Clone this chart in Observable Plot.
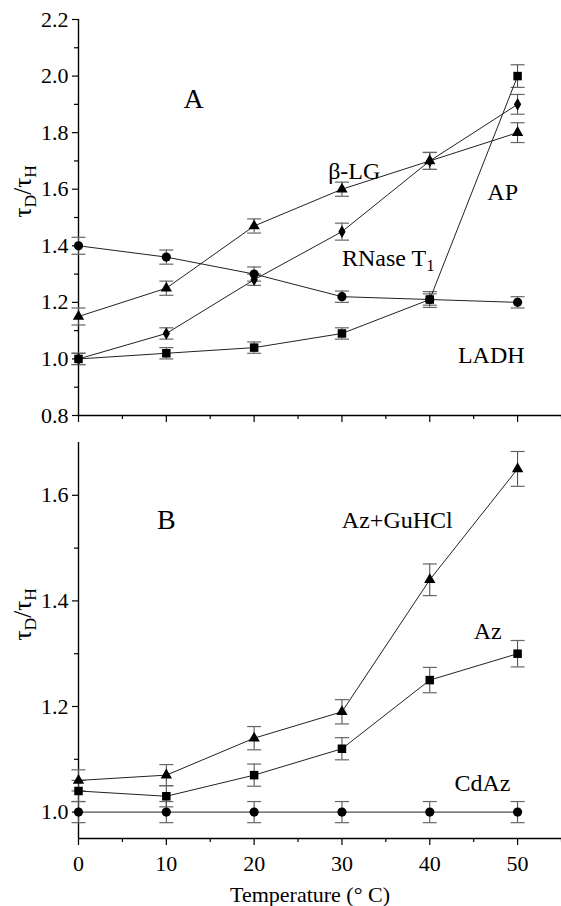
<!DOCTYPE html>
<html><head><meta charset="utf-8">
<script src="https://cdn.jsdelivr.net/npm/d3@7"></script>
<script src="https://cdn.jsdelivr.net/npm/@observablehq/plot@0.6"></script>
<style>
body{margin:0;background:#fff;}
#chart svg{display:block;}
</style>
</head><body><div id="chart"></div>
<script>
// ---- data ----
const temps = [0, 10, 20, 30, 40, 50];

// Panel A
const aBLG = [1.15, 1.25, 1.47, 1.60, 1.70, 1.80];
const aBLGErr = [0.03, 0.025, 0.025, 0.025, 0.03, 0.035];
const aAP = [1.00, 1.02, 1.04, 1.09, 1.21, 2.00];
const aAPErr = [0.02, 0.02, 0.02, 0.02, 0.028, 0.04];
const aRNase = [1.00, 1.09, 1.28, 1.45, 1.70, 1.90];
const aRNaseErr = [0.02, 0.02, 0.02, 0.03, 0.03, 0.035];
const aLADH = [1.40, 1.36, 1.30, 1.22, 1.21, 1.20];
const aLADHErr = [0.03, 0.025, 0.025, 0.02, 0.02, 0.02];

// Panel B
const bAzGu = [1.06, 1.07, 1.14, 1.19, 1.44, 1.65];
const bAzGuErr = [0.02, 0.02, 0.022, 0.023, 0.03, 0.033];
const bAz = [1.04, 1.03, 1.07, 1.12, 1.25, 1.30];
const bAzErr = [0.02, 0.02, 0.021, 0.021, 0.024, 0.025];
const bCdAz = [1.00, 1.00, 1.00, 1.00, 1.00, 1.00];
const bCdAzErr = [0.02, 0.02, 0.02, 0.02, 0.02, 0.02];

// axes
const xMajor = [0, 10, 20, 30, 40, 50];
const xMinor = [5, 15, 25, 35, 45, 55];
const aYMajor = [0.8, 1.0, 1.2, 1.4, 1.6, 1.8, 2.0, 2.2];
const aYMinor = [0.9, 1.1, 1.3, 1.5, 1.7, 1.9, 2.1];
const bYMajor = [1.0, 1.2, 1.4, 1.6];
const bYMinor = [1.1, 1.3, 1.5];

// annotations (data coordinates)
const aLabels = [
  {text: "A", x: 13.1, y: 1.92, size: 28, anchor: "middle"},
  {text: "β-LG", x: 31.4, y: 1.665, size: 24, anchor: "middle"},
  {text: "AP", x: 48.3, y: 1.59, size: 24, anchor: "middle"},
  {text: "RNase T1", x: 30.0, y: 1.355, size: 24, anchor: "start"},
  {text: "LADH", x: 47.0, y: 1.012, size: 24, anchor: "middle"}
];
const bLabels = [
  {text: "B", x: 10.0, y: 1.553, size: 28, anchor: "middle"},
  {text: "Az+GuHCl", x: 36.3, y: 1.553, size: 24, anchor: "middle"},
  {text: "Az", x: 46.6, y: 1.343, size: 24, anchor: "middle"},
  {text: "CdAz", x: 46.0, y: 1.055, size: 24, anchor: "middle"}
];

// ---- build ----
function rows(name, vals, errs, symbol, r) {
  return temps.map((t, i) => ({series: name, t, v: vals[i], lo: vals[i] - errs[i], hi: vals[i] + errs[i], symbol, r}));
}
const capSymbol = {
  draw(context) { context.moveTo(-7, 0); context.lineTo(7, 0); }
};

function panel({series, yDomain, yMajor, yMinor, height, marginTop, marginBottom, labels, xLabels, yLabel}) {
  const all = series.flat();
  const marks = [
    Plot.ruleX([0], {stroke: "#000", strokeWidth: 1.4}),
    Plot.ruleY([yDomain[0]], {stroke: "#000", strokeWidth: 1.4}),
    Plot.axisY({ticks: yMajor, tickSize: 6, tickPadding: 4, tickFormat: d3.format(".1f"), fontSize: 22, label: null, strokeWidth: 1.2}),
    Plot.axisY({ticks: yMinor, tickSize: 4, tickFormat: () => "", label: null, strokeWidth: 1.2}),
    Plot.axisX({ticks: xMajor, tickSize: 7, tickPadding: 10, fontSize: 22, label: null, strokeWidth: 1.2,
      tickFormat: xLabels ? d3.format("d") : () => ""}),
    Plot.axisX({ticks: xMinor, tickSize: 4, tickFormat: () => "", label: null, strokeWidth: 1.2}),
    Plot.ruleX(all, {x: "t", y1: "lo", y2: "hi", stroke: "#444", strokeWidth: 1}),
    Plot.dot(all, {x: "t", y: "lo", symbol: capSymbol, stroke: "#666", fill: "none", strokeWidth: 1.2}),
    Plot.dot(all, {x: "t", y: "hi", symbol: capSymbol, stroke: "#666", fill: "none", strokeWidth: 1.2}),
    Plot.line(all, {x: "t", y: "v", z: "series", stroke: "#222", strokeWidth: 1})
  ];
  for (const s of series) {
    marks.push(Plot.dot(s, {x: "t", y: "v", symbol: s[0].symbol, r: s[0].r, fill: "#000", stroke: "none"}));
  }
  for (const l of labels) {
    marks.push(Plot.text([l], {x: "x", y: "y", text: "text", fontSize: l.size, textAnchor: l.anchor, lineAnchor: "middle"}));
  }
  marks.push(Plot.text([yLabel], {frameAnchor: "left", dx: -56, rotate: -90, fontSize: 25, lineAnchor: "middle"}));
  if (xLabels) {
    marks.push(Plot.text(["Temperature (° C)"], {frameAnchor: "bottom", dx: -10, dy: 56, fontSize: 22, lineAnchor: "middle"}));
  }
  return Plot.plot({
    width: 561, height, marginLeft: 78, marginRight: 0, marginTop, marginBottom,
    x: {domain: [0, 55], axis: null},
    y: {domain: yDomain, axis: null},
    style: {fontFamily: "'Liberation Serif', 'Times New Roman', serif", fontSize: "22px", background: "#fff", color: "#000", overflow: "visible"},
    marks
  });
}

const plotA = panel({
  series: [
    rows("β-LG", aBLG, aBLGErr, "triangle", 4.2),
    rows("AP", aAP, aAPErr, "square", 4.8),
    rows("RNase T1", aRNase, aRNaseErr, "diamond", 3.8),
    rows("LADH", aLADH, aLADHErr, "circle", 4.6)
  ],
  yDomain: [0.8, 2.2], yMajor: aYMajor, yMinor: aYMinor,
  height: 430, marginTop: 19, marginBottom: 15,
  labels: aLabels, xLabels: false, yLabel: "τD/τH"
});
const plotB = panel({
  series: [
    rows("Az+GuHCl", bAzGu, bAzGuErr, "triangle", 4.2),
    rows("Az", bAz, bAzErr, "square", 4.8),
    rows("CdAz", bCdAz, bCdAzErr, "circle", 4.6)
  ],
  yDomain: [0.95, 1.70], yMajor: bYMajor, yMinor: bYMinor,
  height: 476, marginTop: 12, marginBottom: 68,
  labels: bLabels, xLabels: true, yLabel: "τD/τH"
});

// subscripts
function subscript(svg, full, parts) {
  d3.select(svg).selectAll("text").filter(function() { return this.textContent === full; }).each(function() {
    const t = d3.select(this);
    t.text(null);
    for (const [s, sub] of parts) {
      if (sub) {
        t.append("tspan").attr("dy", "0.3em").attr("font-size", "0.7em").text(s);
        t.append("tspan").attr("dy", "-0.21em").text("\u200b");
      } else {
        t.append("tspan").text(s);
      }
    }
  });
}
for (const svg of [plotA, plotB]) {
  subscript(svg, "τD/τH", [["τ", false], ["D", true], ["/τ", false], ["H", true]]);
  subscript(svg, "RNase T1", [["RNase T", false], ["1", true]]);
}
document.getElementById("chart").append(plotA, plotB);
</script>
</body></html>
